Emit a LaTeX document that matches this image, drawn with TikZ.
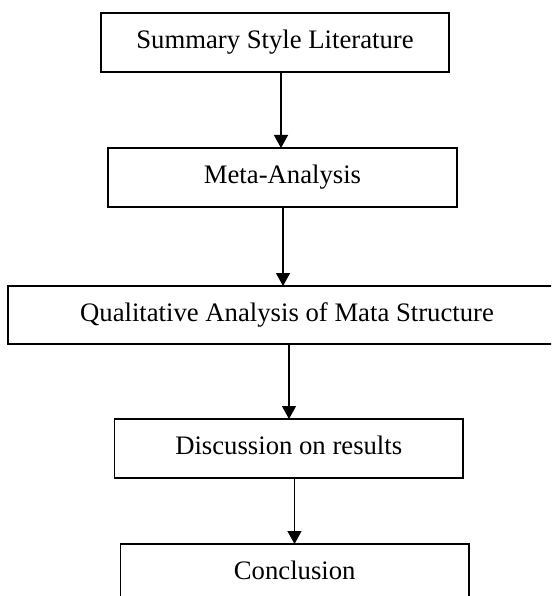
\documentclass[tikz,border=0pt]{standalone}
\usepackage{fontspec}
\setmainfont{Liberation Serif}
\usetikzlibrary{arrows.meta}
\begin{document}
\begin{tikzpicture}[x=1pt,y=-1pt,
  stagebox/.style={draw=black, line width=1.3pt, inner sep=0pt, outer sep=0pt,
    font=\fontsize{26.7}{30}\selectfont, text height=18.2pt, text depth=5.8pt,
    minimum height=59pt},
  flow/.style={draw=black, line width=1.3pt, -{Triangle[length=13pt,width=14pt]}}]
\useasboundingbox (0,0) rectangle (551,596);
\clip (0,0) rectangle (551,596);
\node[stagebox, minimum width=348pt]   (b1) at (275,42.5)    {Summary Style Literature};
\node[stagebox, minimum width=349pt]   (b2) at (282.5,177.5) {Meta-Analysis};
\node[stagebox, minimum width=558pt, minimum height=58pt] (b3) at (287,315) {Qualitative Analysis of Mata Structure};
\node[stagebox, minimum width=348.5pt] (b4) at (288.75,448.5) {Discussion on results};
\node[stagebox, minimum width=348.5pt] (b5) at (294.75,573.5) {Conclusion};
\draw[flow] ([xshift=6pt]b1.south) -- ([xshift=-1.5pt]b2.north);
\draw[flow] ([xshift=0.5pt]b2.south) -- ([xshift=-4pt]b3.north);
\draw[flow] ([xshift=2pt]b3.south) -- ([xshift=0.25pt]b4.north);
\draw[flow] ([xshift=5.75pt]b4.south) -- ([xshift=-0.25pt]b5.north);
\end{tikzpicture}
\end{document}
